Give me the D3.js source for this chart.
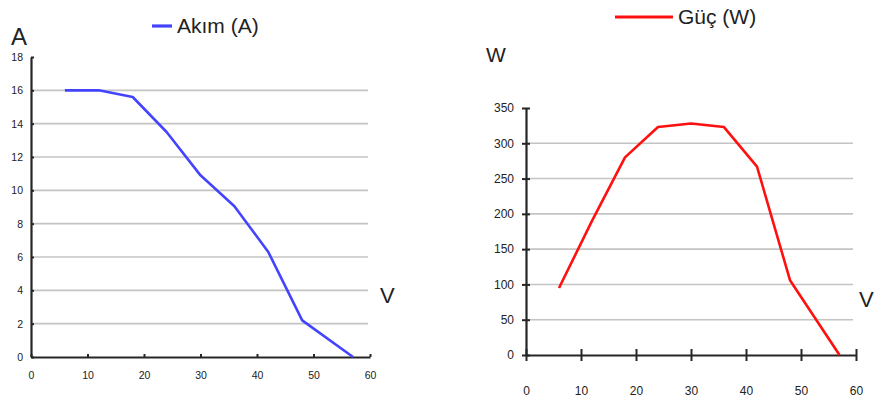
<!DOCTYPE html>
<html><head><meta charset="utf-8">
<script src="https://cdn.jsdelivr.net/npm/d3@7"></script>
<style>body{margin:0;background:#fff} svg{display:block} text{font-family:"Liberation Sans",Arial,sans-serif}</style>
</head><body><svg id="c" width="877" height="400"></svg>
<script>
const voltage = [6, 12, 18, 24, 30, 36, 42, 48, 57];
const current = [16, 16, 15.6, 13.5, 10.9, 9.05, 6.3, 2.2, 0];
const power = [95, 190, 280, 323, 328, 323, 267, 106, 0];
const xTicks = [0, 10, 20, 30, 40, 50, 60];
const currentTicks = [0, 2, 4, 6, 8, 10, 12, 14, 16, 18];
const powerTicks = [0, 50, 100, 150, 200, 250, 300, 350];
const currentLabel = "Akım (A)";
const powerLabel = "Güç (W)";

const svg = d3.select("#c");

function chart(o) {
  const g = svg.append("g");
  const x = d3.scaleLinear().domain([0, 60]).range(o.xr);
  const y = d3.scaleLinear().domain([0, o.ymax]).range(o.yr);
  // gridlines
  g.append("g").selectAll("line").data(o.yt.filter(v => v > 0 && v < o.ymax)).join("line")
    .attr("x1", o.xr[0]).attr("x2", o.gridEnd)
    .attr("y1", d => y(d)).attr("y2", d => y(d))
    .attr("stroke", "#c4c4c4").attr("stroke-width", 1.6);
  // y axis
  const ya = g.append("g").attr("transform", `translate(${o.xr[0]},0)`)
    .call(d3.axisLeft(y).tickValues(o.yt).tickSize(0).tickPadding(o.yPad));
  ya.select(".domain").attr("stroke", "#262626").attr("stroke-width", 2.2);
  ya.selectAll(".tick line").attr("x1", o.yTick[0]).attr("x2", o.yTick[1]).attr("stroke", "#262626").attr("stroke-width", 2);
  ya.selectAll("text").attr("font-size", o.fs).attr("fill", "#222")
    .attr("font-family", '"Liberation Sans", Arial, sans-serif');
  // x axis
  const xa = g.append("g").attr("transform", `translate(0,${o.yr[0]})`)
    .call(d3.axisBottom(x).tickValues(xTicks).tickSize(0).tickPadding(o.xPad));
  xa.select(".domain").attr("stroke", "#262626").attr("stroke-width", 2.2);
  xa.selectAll(".tick line").attr("y1", o.xTick[0]).attr("y2", o.xTick[1]).attr("stroke", "#262626").attr("stroke-width", 2);
  xa.selectAll("text").attr("font-size", o.fs).attr("fill", "#222")
    .attr("font-family", '"Liberation Sans", Arial, sans-serif');
  // line
  const line = d3.line().x((d, i) => x(voltage[i])).y(d => y(d));
  g.append("path").datum(o.vals).attr("d", line).attr("fill", "none")
    .attr("stroke", o.color).attr("stroke-width", 2.6).attr("stroke-linejoin", "round");
  // legend
  g.append("line").attr("x1", o.leg[0]).attr("x2", o.leg[1]).attr("y1", o.leg[2]).attr("y2", o.leg[2])
    .attr("stroke", o.color).attr("stroke-width", 3.2);
  g.append("text").attr("x", o.leg[1] + 5).attr("y", o.leg[2] + o.legDy).text(o.label)
    .attr("font-size", 21).attr("fill", "#222");
  // unit labels
  g.append("text").attr("x", o.yu[0]).attr("y", o.yu[1]).text(o.yuT).attr("font-size", o.yu[2]).attr("fill", "#222");
  g.append("text").attr("x", o.xu[0]).attr("y", o.xu[1]).text("V").attr("font-size", 22).attr("fill", "#222");
}

chart({xr: [31, 370], yr: [357, 57], ymax: 18, yt: currentTicks, gridEnd: 368,
  yPad: 8, xPad: 15, yTick: [0, 3], xTick: [0, -3], fs: 10.5,
  vals: current, color: "#4444ff", leg: [152, 172, 26], legDy: 7, label: currentLabel,
  yu: [11, 45, 24], yuT: "A", xu: [380, 303]});

chart({xr: [526, 856], yr: [355, 108], ymax: 350, yt: powerTicks, gridEnd: 853,
  yPad: 12, xPad: 31, yTick: [-4, 4], xTick: [-6, 6], fs: 12,
  vals: power, color: "#ff1010", leg: [615, 673, 17], legDy: 7, label: powerLabel,
  yu: [486, 62, 21], yuT: "W", xu: [859, 307]});
</script></body></html>
